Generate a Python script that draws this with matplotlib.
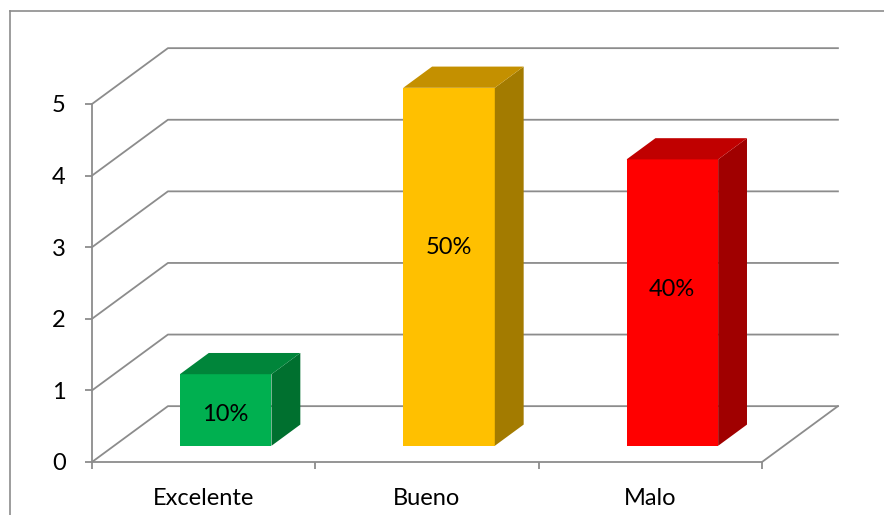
import matplotlib
matplotlib.use("Agg")
import matplotlib.pyplot as plt
from matplotlib.patches import Polygon
from matplotlib.lines import Line2D

categories = ["Excelente", "Bueno", "Malo"]
values = [1, 5, 4]
front_colors = ["#00B050", "#FFC000", "#FF0000"]
top_colors = ["#00853A", "#C49000", "#C00000"]
side_colors = ["#00702F", "#A37B00", "#A00000"]
y_ticks = [0, 1, 2, 3, 4, 5]

plt.rcParams['font.family'] = ['Lato', 'DejaVu Sans']

# oblique projection of depth axis (in data units)
DX = 0.34
DY = 0.78
z0, z1 = 0.29, 0.67
bar_w = 0.41
grid_col = "#8c8c8c"


def proj(x, y, z):
    return x + z * DX, y + z * DY


fig = plt.figure(figsize=(8.84, 5.15), dpi=100)
ax = fig.add_axes([92 / 884, 53 / 515, 670 / 884, 358 / 515])
ax.set_xlim(0, 3)
ax.set_ylim(0, 5)
for s in ["top", "right"]:
    ax.spines[s].set_visible(False)
for s in ["left", "bottom"]:
    ax.spines[s].set_color(grid_col)
    ax.spines[s].set_linewidth(1.3)

n = len(categories)

# walls / gridlines
for v in y_ticks:
    fx, fy = proj(0, v, 0)
    bx, by = proj(0, v, 1)
    ex, ey = proj(n, v, 1)
    ax.plot([fx, bx, ex], [fy, by, ey], color=grid_col, lw=1.3, clip_on=False, zorder=1)
# floor right edge
ax.plot([n, proj(n, 0, 1)[0]], [0, proj(n, 0, 1)[1]], color=grid_col, lw=1.3, clip_on=False, zorder=1)

# bars
total = sum(values)
for i, v in enumerate(values):
    x0 = i + 0.5 - bar_w / 2
    x1 = i + 0.5 + bar_w / 2
    front = [proj(x0, 0, z0), proj(x1, 0, z0), proj(x1, v, z0), proj(x0, v, z0)]
    side = [proj(x1, 0, z0), proj(x1, 0, z1), proj(x1, v, z1), proj(x1, v, z0)]
    top = [proj(x0, v, z0), proj(x1, v, z0), proj(x1, v, z1), proj(x0, v, z1)]
    ax.add_patch(Polygon(front, closed=True, facecolor=front_colors[i], edgecolor="none", zorder=3, clip_on=False))
    ax.add_patch(Polygon(side, closed=True, facecolor=side_colors[i], edgecolor="none", zorder=3, clip_on=False))
    ax.add_patch(Polygon(top, closed=True, facecolor=top_colors[i], edgecolor="none", zorder=3, clip_on=False))
    lx, ly = proj(i + 0.5, v * 0.585 - 0.15, z0)
    ax.text(lx, ly, f"{v / total * 100:.0f}%", ha="center", va="center", fontsize=17, zorder=4)

ax.set_yticks(y_ticks)
ax.set_yticklabels([str(t) for t in y_ticks])
ax.set_xticks(range(n + 1))
ax.set_xticklabels([])
ax.set_xticks([i + 0.5 for i in range(n)], minor=True)
ax.set_xticklabels(categories, minor=True)
ax.tick_params(axis="y", length=5, width=1.3, color=grid_col, pad=14, labelsize=17)
ax.tick_params(axis="x", which="major", length=5, width=1.3, color=grid_col)
ax.tick_params(axis="x", which="minor", length=0, pad=19, labelsize=17)

# chart area border (top and left edges visible)
fig.add_artist(Line2D([10 / 884, 1.0], [1 - 11 / 515, 1 - 11 / 515], color="#8c8c8c", lw=1.2))
fig.add_artist(Line2D([10 / 884, 10 / 884], [0.0, 1 - 11 / 515], color="#8c8c8c", lw=1.2))

fig.savefig("out.png", dpi=100)
